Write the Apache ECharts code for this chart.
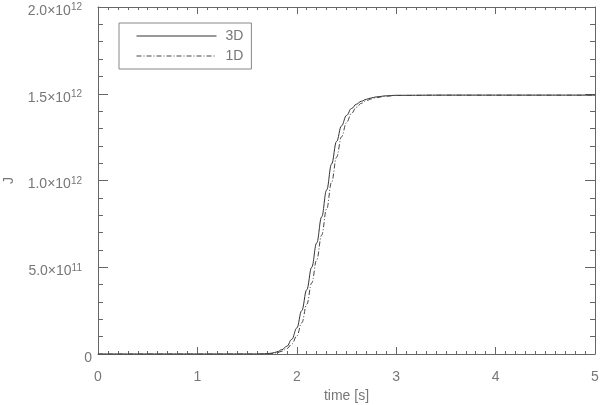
<!DOCTYPE html>
<html><head><meta charset="utf-8">
<script src="https://cdn.jsdelivr.net/npm/echarts@6/dist/echarts.min.js"></script>
<style>html,body{margin:0;padding:0;background:#fff}#c{width:600px;height:405px}</style>
</head><body><div id="c"></div>
<script>
// time [s]
var time = [0, 0.5, 1.0, 1.5, 1.6, 1.65, 1.7, 1.75, 1.8, 1.85, 1.9, 1.95, 2.0, 2.05, 2.1, 2.15, 2.2, 2.25, 2.3, 2.35, 2.4, 2.45, 2.5, 2.55, 2.6, 2.65, 2.7, 2.75, 2.8, 2.9, 3.0, 3.5, 4.0, 4.5, 5.0];
// J in units of 1e12
var j3D = [0, 0, 0, 0, 0, 0.001, 0.002, 0.005, 0.012, 0.025, 0.045, 0.085, 0.15, 0.25, 0.37, 0.50, 0.64, 0.79, 0.945, 1.095, 1.225, 1.315, 1.375, 1.415, 1.44, 1.457, 1.468, 1.476, 1.482, 1.488, 1.491, 1.492, 1.492, 1.492, 1.492];
var j1D = [0, 0, 0, 0, 0, 0, 0.001, 0.003, 0.007, 0.016, 0.031, 0.057, 0.104, 0.18, 0.286, 0.409, 0.542, 0.685, 0.836, 0.99, 1.134, 1.252, 1.333, 1.387, 1.4225, 1.445, 1.460, 1.470, 1.478, 1.486, 1.490, 1.492, 1.492, 1.492, 1.492];
var seriesNames = ['3D', '1D'];
var scale = 1e12;

function pairs(ys) { return time.map(function (t, i) { return [t, ys[i] * scale]; }); }

var axisGray = '#666';
var textGray = '#777';
var font = 'Liberation Sans, Arial, sans-serif';

function yFmt(v) {
  if (v === 0) return '{z|0}';
  var e = Math.floor(Math.log10(v) + 1e-9);
  var m = v / Math.pow(10, e);
  return '{b|' + m.toFixed(1) + '×10}{s|' + e + '}';
}

var chart = echarts.init(document.getElementById('c'), null, {renderer: 'canvas'});
chart.setOption({
  animation: false,
  backgroundColor: '#fff',
  grid: {left: 98, right: 5, top: 7, bottom: 51, containLabel: false, outerBoundsMode: 'none'},
  legend: {
    orient: 'vertical', left: 119, top: 23,
    padding: [6, 8, 6, 17],
    itemWidth: 80, itemHeight: 10, itemGap: 6,
    borderColor: '#888', borderWidth: 1,
    itemStyle: {opacity: 0},
    lineStyle: {width: 1},
    textStyle: {color: textGray, fontFamily: font, fontSize: 14, padding: [0, 0, 0, 4]},
    data: seriesNames
  },
  xAxis: [{
    type: 'value', min: 0, max: 5, interval: 1,
    name: 'time [s]', nameLocation: 'middle', nameGap: 34,
    nameTextStyle: {color: textGray, fontFamily: font, fontSize: 14},
    axisLine: {show: true, onZero: false, lineStyle: {color: axisGray, width: 1}},
    axisTick: {show: true, inside: true, length: 7, lineStyle: {color: axisGray}},
    minorTick: {show: true, splitNumber: 10, length: 3, lineStyle: {color: axisGray}},
    axisLabel: {color: textGray, fontFamily: font, fontSize: 14, margin: 16},
    splitLine: {show: false}
  }, {
    type: 'value', min: 0, max: 5, interval: 1, position: 'top',
    axisLine: {show: true, onZero: false, lineStyle: {color: axisGray, width: 1}},
    axisTick: {show: true, inside: true, length: 7, lineStyle: {color: axisGray}},
    minorTick: {show: true, splitNumber: 10, length: 3, lineStyle: {color: axisGray}},
    axisLabel: {show: false}, splitLine: {show: false}
  }],
  yAxis: [{
    type: 'value', min: 0, max: 2e12, interval: 5e11,
    name: 'J', nameLocation: 'middle', nameGap: 82, nameRotate: 90,
    nameTextStyle: {color: textGray, fontFamily: font, fontSize: 14},
    axisLine: {show: true, onZero: false, lineStyle: {color: axisGray, width: 1}},
    axisTick: {show: true, inside: true, length: 10, lineStyle: {color: axisGray}},
    minorTick: {show: true, splitNumber: 5, length: 5, lineStyle: {color: axisGray}},
    axisLabel: {
      margin: 6, formatter: yFmt, padding: [8, 0, 0, 0],
      rich: {
        z: {color: textGray, fontFamily: font, fontSize: 14},
        b: {color: textGray, fontFamily: font, fontSize: 14},
        s: {color: textGray, fontFamily: font, fontSize: 10, padding: [0, 10, 7, 0]}
      }
    },
    splitLine: {show: false}
  }, {
    type: 'value', min: 0, max: 2e12, interval: 5e11, position: 'right',
    axisLine: {show: true, onZero: false, lineStyle: {color: axisGray, width: 1}},
    axisTick: {show: true, inside: true, length: 10, lineStyle: {color: axisGray}},
    minorTick: {show: true, splitNumber: 5, length: 5, lineStyle: {color: axisGray}},
    axisLabel: {show: false}, splitLine: {show: false}
  }],
  series: [{
    name: seriesNames[0], type: 'line', data: pairs(j3D),
    showSymbol: false, symbol: 'none', smooth: 0.4, smoothMonotone: 'x',
    color: '#333',
    lineStyle: {color: '#333', width: 1}
  }, {
    name: seriesNames[1], type: 'line', data: pairs(j1D),
    showSymbol: false, symbol: 'none', smooth: 0.4, smoothMonotone: 'x',
    color: '#444',
    lineStyle: {color: '#444', width: 1, type: [5, 2, 1, 2]}
  }]
});
</script></body></html>
